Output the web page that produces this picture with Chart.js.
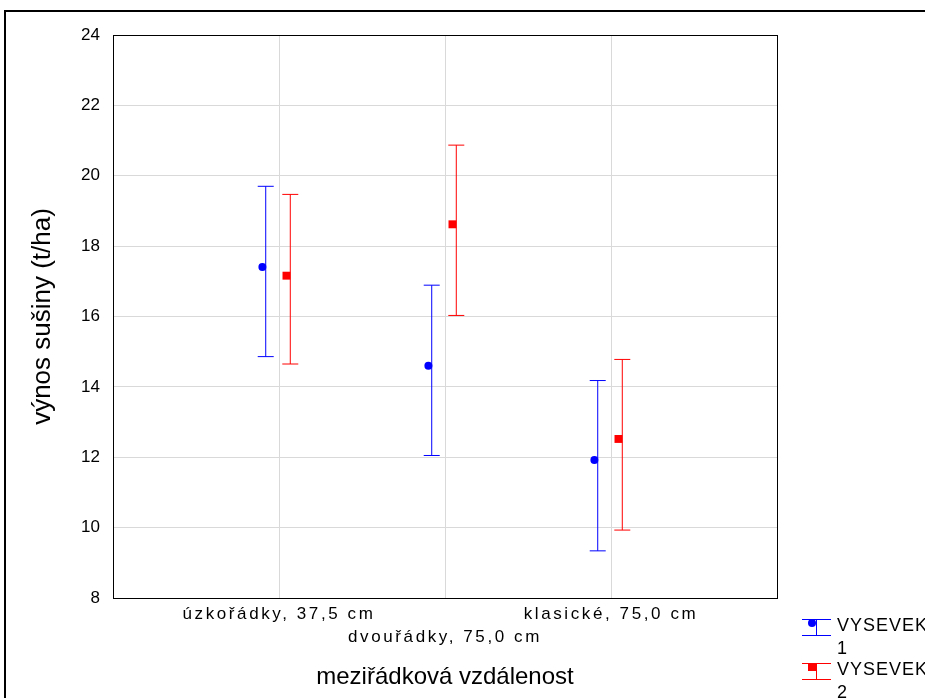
<!DOCTYPE html>
<html>
<head>
<meta charset="utf-8">
<script src="https://cdn.jsdelivr.net/npm/chart.js@4.4.0/dist/chart.umd.min.js"></script>
<style>
    html, body { margin: 0; padding: 0; background: #fff; }
    #wrap { position: relative; width: 925px; height: 698px; overflow: hidden; }
    #frame { position: absolute; left: 4px; top: 10px; width: 1000px; height: 1000px; border: 2px solid #000; }
    #chart { position: absolute; left: 0; top: 0; }
</style>
</head>
<body>
<div id="wrap">
    <div id="frame"></div>
    <canvas id="chart" width="925" height="698"></canvas>
</div>
<script>
// data
const categories = ['úzkořádky, 37,5 cm', 'dvouřádky, 75,0 cm', 'klasické, 75,0 cm'];
const catPos = [1, 2, 3];
const seriesNames = ['VYSEVEK 1', 'VYSEVEK 2'];
const seriesColors = ['#0000ff', '#ff0000'];

const means1 = [17.41, 14.60, 11.92];
const upper1 = [19.70, 16.89, 14.18];
const lower1 = [14.86, 12.05, 9.34];

const means2 = [17.16, 18.62, 12.52];
const upper2 = [19.47, 20.87, 14.78];
const lower2 = [14.65, 16.03, 9.93];

const yTicks = [8, 10, 12, 14, 16, 18, 20, 22, 24];
const xGrid = [0, 1, 2, 3, 4];

// small horizontal shifts so the two series sit side by side
const dotShift = [-0.1, 0.045];
const barShift = [-0.08, 0.068];

const FONT = "'Liberation Sans', Arial, sans-serif";

const series = [
    { name: seriesNames[0], mean: means1, lo: lower1, hi: upper1, color: seriesColors[0], style: 'circle', r: 4 },
    { name: seriesNames[1], mean: means2, lo: lower2, hi: upper2, color: seriesColors[1], style: 'rect', r: 5.6 }
];

const datasets = [];
series.forEach((s, i) => {
    datasets.push({
        label: s.name,
        data: catPos.map((x, j) => ({ x: x + dotShift[i], y: s.mean[j] })),
        showLine: false,
        pointStyle: s.style,
        pointRadius: s.r,
        pointBackgroundColor: s.color,
        pointBorderWidth: 0
    });
});
series.forEach((s, i) => {
    catPos.forEach((x, j) => {
        datasets.push({
            label: '',
            data: [{ x: x + barShift[i], y: s.lo[j] }, { x: x + barShift[i], y: s.hi[j] }],
            showLine: true,
            borderColor: s.color,
            borderWidth: 1,
            pointStyle: 'line',
            pointRadius: 8,
            pointBorderColor: s.color,
            pointBorderWidth: 1
        });
    });
});

const plotFrame = {
    id: 'plotFrame',
    beforeDatasetsDraw(chart) {
        const { ctx, chartArea: a } = chart;
        ctx.save();
        ctx.strokeStyle = '#000';
        ctx.lineWidth = 1;
        ctx.strokeRect(Math.round(a.left) + 0.5, Math.round(a.top) + 0.5,
            Math.round(a.right - a.left), Math.round(a.bottom - a.top));
        ctx.restore();
    }
};

// wider letter spacing on the category labels
const spacedTicks = {
    id: 'spacedTicks',
    afterLayout(chart) {
        const sc = chart.scales.x;
        if (sc._spaced) return;
        sc._spaced = true;
        const orig = sc.drawLabels;
        sc.drawLabels = function (area) {
            const ctx = this.ctx;
            ctx.save();
            ctx.letterSpacing = '2.6px';
            orig.call(this, area);
            ctx.restore();
        };
    }
};

const errLegend = {
    id: 'errLegend',
    afterDraw(chart) {
        const ctx = chart.ctx;
        const x0 = chart.chartArea.right + 25;
        series.forEach((s, i) => {
            const y0 = chart.chartArea.bottom + 21 + i * 44;
            ctx.save();
            ctx.strokeStyle = s.color;
            ctx.fillStyle = s.color;
            ctx.lineWidth = 1;
            ctx.beginPath();
            ctx.moveTo(x0, y0 + 0.5); ctx.lineTo(x0 + 29, y0 + 0.5);
            ctx.moveTo(x0 + 14.5, y0); ctx.lineTo(x0 + 14.5, y0 + 16);
            ctx.moveTo(x0, y0 + 16.5); ctx.lineTo(x0 + 29, y0 + 16.5);
            ctx.stroke();
            if (s.style === 'circle') {
                ctx.beginPath();
                ctx.arc(x0 + 10, y0 + 4, 4, 0, Math.PI * 2);
                ctx.fill();
            } else {
                ctx.fillRect(x0 + 6, y0, 8, 8);
            }
            ctx.fillStyle = '#000';
            ctx.font = '18px ' + FONT;
            ctx.letterSpacing = '1px';
            ctx.textBaseline = 'alphabetic';
            const parts = s.name.split(' ');
            ctx.fillText(parts[0], x0 + 35, y0 + 12);
            ctx.fillText(parts[1], x0 + 35, y0 + 35);
            ctx.restore();
        });
    }
};

new Chart(document.getElementById('chart'), {
    type: 'scatter',
    data: { datasets },
    options: {
        responsive: false,
        animation: false,
        events: [],
        layout: { padding: { left: 0, top: 35, right: 148, bottom: 0 } },
        plugins: {
            legend: { display: false },
            tooltip: { enabled: false }
        },
        scales: {
            x: {
                type: 'linear',
                min: 0,
                max: 4,
                afterBuildTicks: s => { s.ticks = xGrid.map(v => ({ value: v })); },
                afterFit: s => { s.height = 100; },
                grid: { color: '#d9d9d9', drawTicks: false },
                border: { display: false },
                ticks: {
                    autoSkip: false,
                    maxRotation: 0,
                    padding: 5,
                    color: '#000',
                    font: { family: FONT, size: 17, lineHeight: 1.35 },
                    callback: v => {
                        const j = catPos.indexOf(v);
                        if (j < 0) return '';
                        return j === 1 ? ['', categories[j]] : categories[j];
                    }
                },
                title: {
                    display: true,
                    text: 'meziřádková vzdálenost',
                    color: '#000',
                    font: { family: FONT, size: 24 },
                    padding: { bottom: 6 }
                }
            },
            y: {
                min: 8,
                max: 24,
                afterBuildTicks: s => { s.ticks = yTicks.map(v => ({ value: v })); },
                afterFit: s => { s.width = 113; },
                grid: { color: '#d9d9d9', drawTicks: false },
                border: { display: false },
                ticks: {
                    padding: 13,
                    color: '#000',
                    font: { family: FONT, size: 17 }
                },
                title: {
                    display: true,
                    text: 'výnos sušiny (t/ha)',
                    color: '#000',
                    font: { family: FONT, size: 26 },
                    padding: { top: 27 }
                }
            }
        }
    },
    plugins: [plotFrame, spacedTicks, errLegend]
});
</script>
</body>
</html>
